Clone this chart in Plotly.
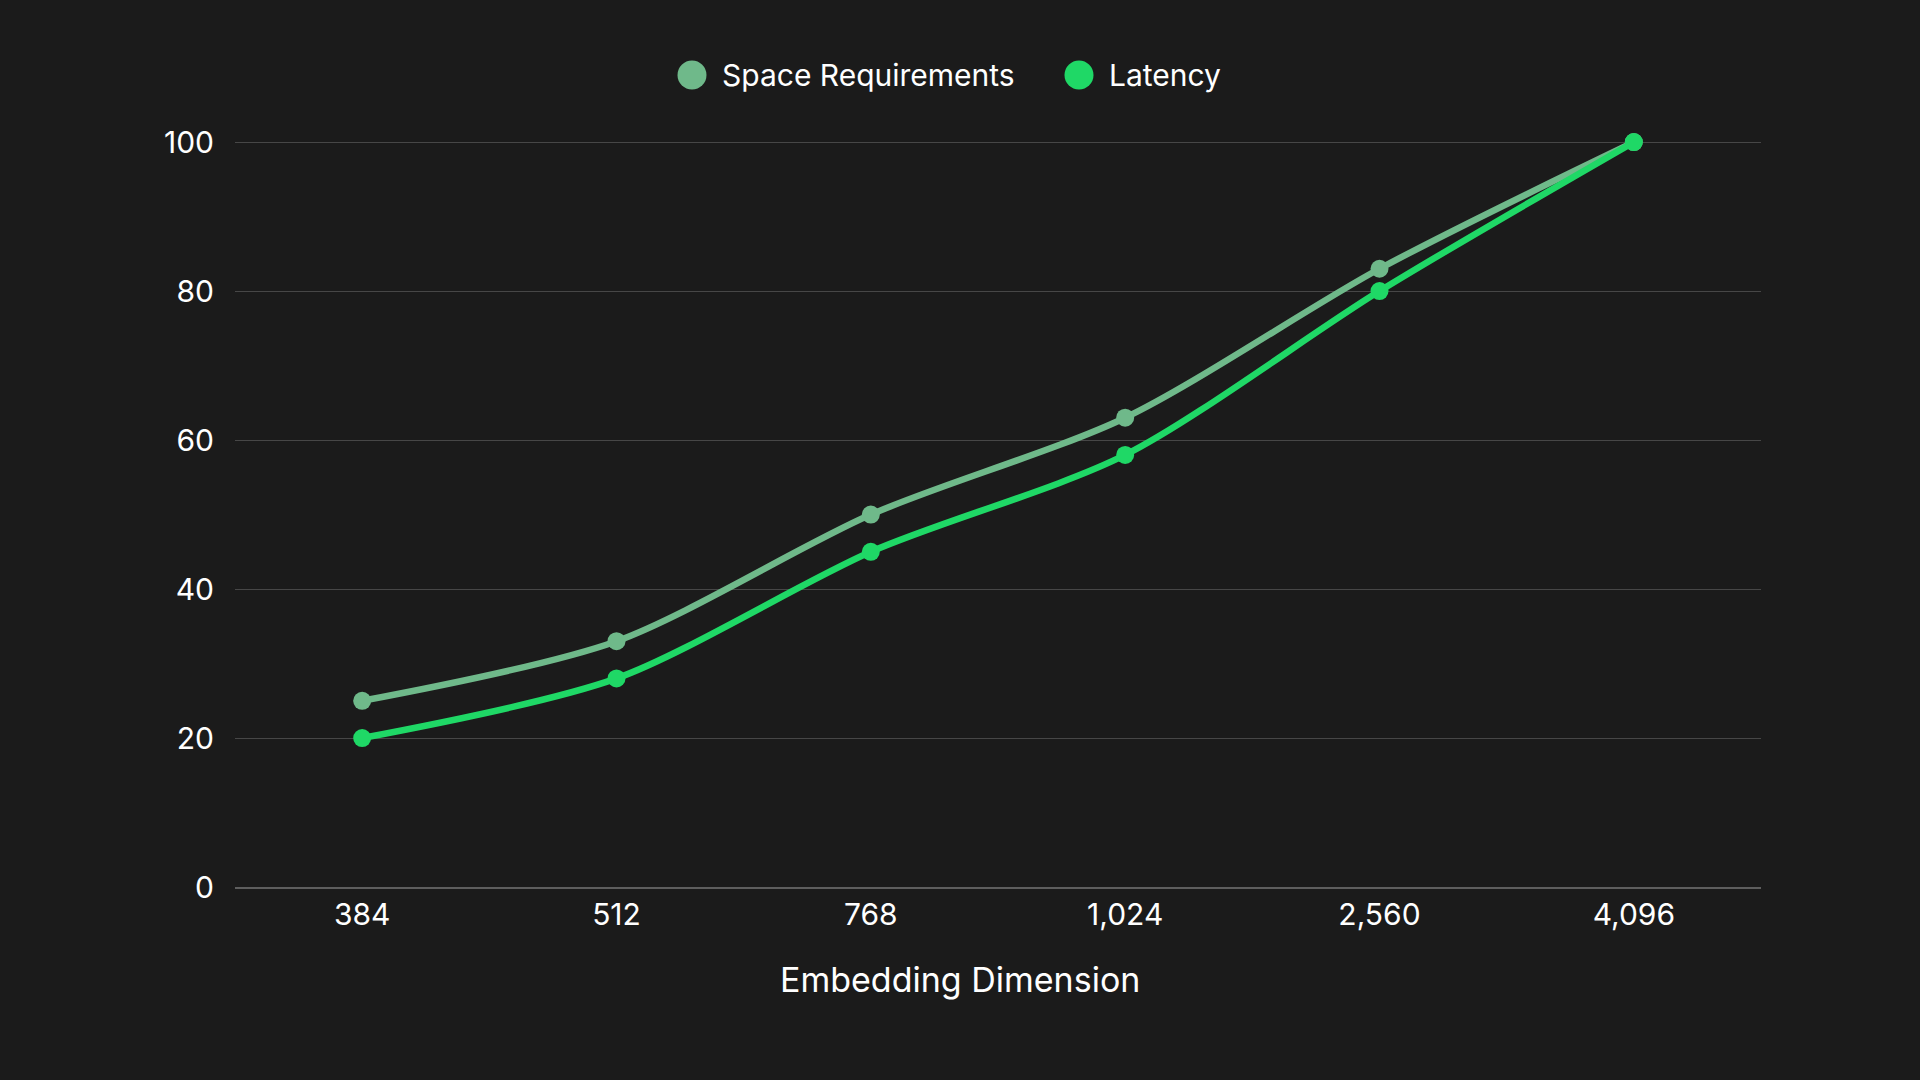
import plotly.graph_objects as go

categories = ["384", "512", "768", "1,024", "2,560", "4,096"]
space_req = [25, 33, 50, 63, 83, 100]
latency = [20, 28, 45, 58, 80, 100]
y_ticks = [0, 20, 40, 60, 80, 100]
series_names = ["Space Requirements", "Latency"]

BG = "#1b1b1b"
C_SPACE = "#6fb98a"
C_LAT = "#1fd866"
FONT = "Inter"

# plot area in pixels (for converting legend/title positions to paper coords)
L, R, T, B = 235, 1761, 141, 887
PW, PH = R - L, B - T


def px(x):
    return (x - L) / PW


def py(y):
    return (B - y) / PH


fig = go.Figure()
for name, vals, col in [(series_names[0], space_req, C_SPACE), (series_names[1], latency, C_LAT)]:
    fig.add_trace(go.Scatter(
        x=categories, y=vals, mode="lines+markers", name=name,
        line=dict(color=col, width=6.5, shape="spline", smoothing=0.8),
        marker=dict(color=col, size=18), showlegend=False, cliponaxis=False,
    ))

# legend drawn as circles + text
legend_items = [(series_names[0], C_SPACE, 692, 720), (series_names[1], C_LAT, 1079, 1107)]
ly, r = 75, 14.5
for name, col, cx, tx in legend_items:
    fig.add_shape(type="circle", xref="paper", yref="paper",
                  x0=px(cx - r), x1=px(cx + r), y0=py(ly + r), y1=py(ly - r),
                  fillcolor=col, line=dict(width=0), layer="above")
    fig.add_annotation(text=name, xref="paper", yref="paper", x=px(tx), y=py(ly),
                       xanchor="left", yanchor="middle", showarrow=False,
                       font=dict(size=30, color="#ffffff", family=FONT))

# x-axis title centred on the page
fig.add_annotation(text="Embedding Dimension", xref="paper", yref="paper",
                   x=px(960), y=py(979), xanchor="center", yanchor="middle",
                   showarrow=False, font=dict(size=34, color="#ffffff", family=FONT))

fig.update_layout(
    width=1920, height=1080,
    paper_bgcolor=BG, plot_bgcolor=BG,
    margin=dict(l=L, r=1920 - R, t=T, b=1080 - B),
    font=dict(family=FONT, color="#ffffff", size=30),
    showlegend=False,
    xaxis=dict(
        type="category", range=[-0.5, 5.5],
        showgrid=False, showline=True, linecolor="#5e5e5e", linewidth=1.5,
        zeroline=False, ticks="", tickfont=dict(size=30, color="#ffffff"),
        ticklabelstandoff=0,
    ),
    yaxis=dict(
        range=[0, 100.15], tickvals=y_ticks, showgrid=True, gridcolor="#474747", gridwidth=1.2,
        zeroline=False, showline=False, ticks="", ticklabelstandoff=20,
        tickfont=dict(size=30, color="#ffffff"),
    ),
)

fig.write_html("out.html", config={"displayModeBar": False},
               post_script="document.body.style.margin='0';document.body.style.background='#1b1b1b';")
